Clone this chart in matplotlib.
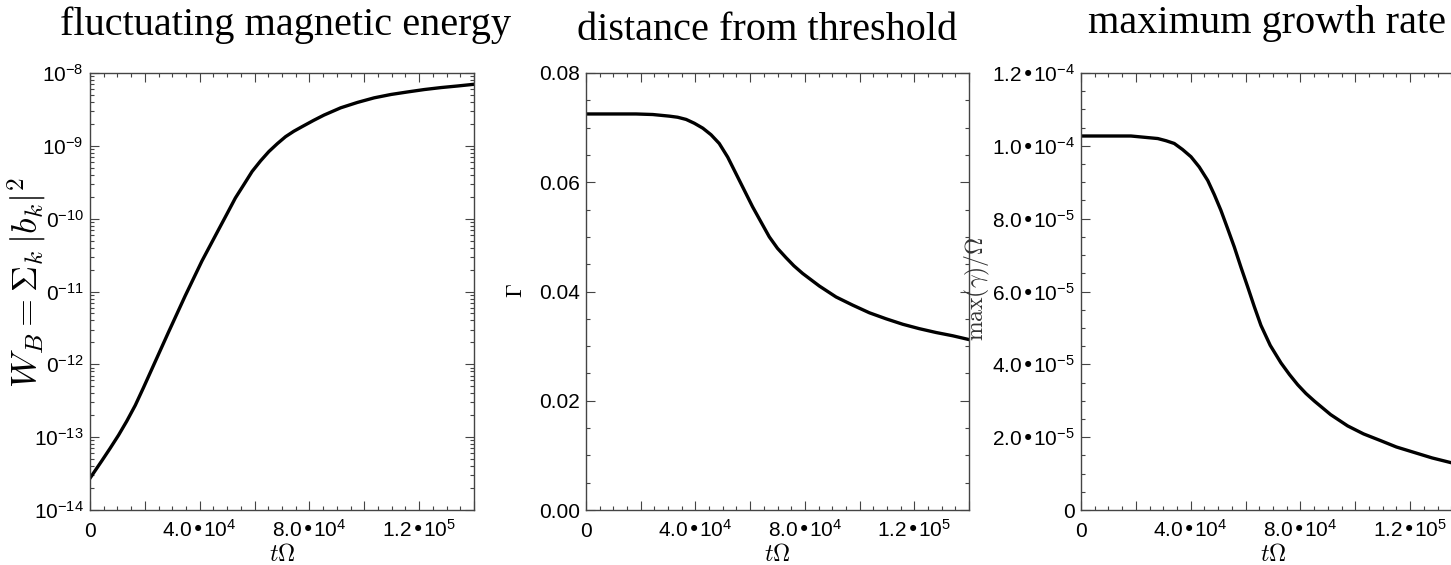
import numpy as np
import matplotlib
matplotlib.use('Agg')
import matplotlib.pyplot as plt
from matplotlib.ticker import MultipleLocator, LogLocator, NullFormatter

plt.rcParams['font.family'] = 'Liberation Sans'

# ---- values (t in units of 1/Omega) ----
# fluctuating magnetic energy (log10 of W_B)
t_wb = [0, 4.3e3, 7.3e3, 10.4e3, 13.4e3, 16.5e3, 19.5e3, 22.6e3, 28.6e3,
        34.7e3, 40.8e3, 46.9e3, 50.0e3, 53.0e3, 56.1e3, 59.1e3, 62.2e3,
        65.2e3, 68.3e3, 71.3e3, 74.3e3, 77.4e3, 81.5e3, 85.3e3, 91.4e3,
        97.5e3, 103.6e3, 109.7e3, 115.8e3, 121.9e3, 128.0e3, 134.1e3, 140.0e3]
log_wb = [-13.564, -13.325, -13.155, -12.973, -12.780, -12.563, -12.320,
          -12.061, -11.560, -11.060, -10.582, -10.149, -9.930, -9.716, -9.532,
          -9.352, -9.206, -9.079, -8.970, -8.874, -8.800, -8.735, -8.651,
          -8.578, -8.478, -8.404, -8.341, -8.295, -8.260, -8.227, -8.200,
          -8.178, -8.155]

# distance from threshold
t_gam = [0, 18.3e3, 24.4e3, 30.5e3, 33.5e3, 36.6e3, 39.6e3, 42.7e3, 45.7e3,
         48.7e3, 51.8e3, 54.8e3, 57.8e3, 60.9e3, 64.0e3, 67.0e3, 70.0e3,
         73.1e3, 76.0e3, 79.2e3, 85.3e3, 91.4e3, 97.5e3, 103.6e3, 109.7e3,
         115.8e3, 121.8e3, 127.9e3, 134.0e3, 140.0e3]
gamma_thr = [0.0725, 0.0725, 0.0724, 0.0721, 0.0719, 0.0715, 0.0708, 0.0699,
             0.0687, 0.0671, 0.0646, 0.0616, 0.0586, 0.0555, 0.0527, 0.0500,
             0.0479, 0.0462, 0.0447, 0.0433, 0.0410, 0.0390, 0.0375, 0.0361,
             0.0350, 0.0340, 0.0332, 0.0325, 0.0319, 0.0312]

# maximum growth rate
t_rate = [0, 18.2e3, 28.0e3, 31.0e3, 34.0e3, 37.0e3, 40.1e3, 43.1e3, 46.2e3,
          48.6e3, 51.0e3, 53.4e3, 55.9e3, 58.3e3, 60.8e3, 63.2e3, 65.6e3,
          69.0e3, 72.9e3, 76.0e3, 79.0e3, 82.0e3, 85.1e3, 91.0e3, 97.2e3,
          103.0e3, 109.4e3, 115.0e3, 121.5e3, 128.0e3, 134.9e3, 140.0e3]
rate_max = [1.027e-4, 1.027e-4, 1.020e-4, 1.014e-4, 1.0065e-4, 0.990e-4,
            0.970e-4, 0.942e-4, 0.905e-4, 0.866e-4, 0.823e-4, 0.774e-4,
            0.722e-4, 0.667e-4, 0.612e-4, 0.558e-4, 0.507e-4, 0.452e-4,
            0.404e-4, 0.372e-4, 0.344e-4, 0.320e-4, 0.299e-4, 0.262e-4,
            0.231e-4, 0.209e-4, 0.190e-4, 0.173e-4, 0.158e-4, 0.143e-4,
            0.130e-4, 0.124e-4]

# tick values / labels (as printed in the source figure)
x_ticks = [0, 2e4, 4e4, 6e4, 8e4, 1.0e5, 1.2e5, 1.4e5]
x_ticklabels = ['0', '', r'4.0•10$\mathregular{^4}$', '',
                r'8.0•10$\mathregular{^4}$', '', r'1.2•10$\mathregular{^5}$', '']
wb_ticks = [1e-14, 1e-13, 1e-12, 1e-11, 1e-10, 1e-9, 1e-8]
wb_ticklabels = [r'$\mathregular{10^{-14}}$', r'$\mathregular{10^{-13}}$',
                 r'$\mathregular{0^{-12}}$', r'$\mathregular{0^{-11}}$',
                 r'$\mathregular{0^{-10}}$', r'$\mathregular{10^{-9}}$',
                 r'$\mathregular{10^{-8}}$']
gam_ticks = [0.0, 0.02, 0.04, 0.06, 0.08]
gam_ticklabels = ['0.00', '0.02', '0.04', '0.06', '0.08']
rate_ticks = [0, 2e-5, 4e-5, 6e-5, 8e-5, 1.0e-4, 1.2e-4]
rate_ticklabels = ['0', r'2.0•10$\mathregular{^{-5}}$', r'4.0•10$\mathregular{^{-5}}$',
                   r'6.0•10$\mathregular{^{-5}}$', r'8.0•10$\mathregular{^{-5}}$',
                   r'1.0•10$\mathregular{^{-4}}$', r'1.2•10$\mathregular{^{-4}}$']

W, H = 1451, 565
fig = plt.figure(figsize=(W / 100, H / 100), dpi=100)
fig.patch.set_facecolor('white')

bot = 1 - 510 / H
hgt = 437 / H
ax1 = fig.add_axes([90 / W, bot, 384 / W, hgt])
ax2 = fig.add_axes([586 / W, bot, 383 / W, hgt])
ax3 = fig.add_axes([1081 / W, bot, 384 / W, hgt])  # runs off the right edge, as in the source


def style(ax):
    for sp in ax.spines.values():
        sp.set_color('#444444')
        sp.set_linewidth(1.0)
    ax.tick_params(which='both', direction='in', top=True, right=True,
                   color='#444444', width=0.8, labelsize=15, labelcolor='black')
    ax.tick_params(which='major', length=6.5)
    ax.tick_params(which='minor', length=3.2)
    ax.tick_params(axis='x', pad=19.5)
    ax.tick_params(axis='y', pad=4.5)
    ax.set_xlim(0, 1.4e5)
    ax.set_xticks(x_ticks)
    ax.set_xticklabels(x_ticklabels)
    ax.xaxis.set_minor_locator(MultipleLocator(5e3))
    for lbl in ax.get_xticklabels():
        lbl.set_verticalalignment('baseline')
    ax.set_xlabel(r'$t\Omega$', fontsize=17, math_fontfamily='cm')
    ax.xaxis.set_label_coords(0.5, -0.078)


# panel 1: magnetic energy
ax1.plot(t_wb, 10.0 ** np.array(log_wb), color='black', lw=2.4)
ax1.set_yscale('log')
ax1.set_ylim(1e-14, 1e-8)
style(ax1)
ax1.set_yticks(wb_ticks)
ax1.set_yticklabels(wb_ticklabels)
ax1.yaxis.set_minor_locator(LogLocator(base=10, subs=np.arange(2, 10)))
ax1.yaxis.set_minor_formatter(NullFormatter())
ax1.set_ylabel(r'$W_B = \Sigma_k\,|b_k|^2$', fontsize=26, math_fontfamily='cm')
ax1.yaxis.set_label_coords(-0.107, 0.52)

# panel 2: distance from threshold
ax2.plot(t_gam, gamma_thr, color='black', lw=2.4)
ax2.set_ylim(0, 0.08)
style(ax2)
ax2.set_yticks(gam_ticks)
ax2.set_yticklabels(gam_ticklabels)
ax2.yaxis.set_minor_locator(MultipleLocator(0.005))
ax2.set_ylabel(r'$\Gamma$', fontsize=16, math_fontfamily='cm')
ax2.yaxis.set_label_coords(-0.155, 0.503)

# panel 3: maximum growth rate
ax3.plot(t_rate, rate_max, color='black', lw=2.4)
ax3.set_ylim(0, 1.2e-4)
style(ax3)
ax3.set_yticks(rate_ticks)
ax3.set_yticklabels(rate_ticklabels)
ax3.yaxis.set_minor_locator(MultipleLocator(5e-6))
ax3.set_ylabel(r'$\mathrm{max}(\gamma)/\Omega$', fontsize=17, math_fontfamily='cm',
               color='#333333')
ax3.yaxis.set_label_coords(-0.232, 0.506)

# panel titles
tfont = dict(family='Liberation Serif', fontsize=29, ha='center', va='baseline')
fig.text(285 / W, 1 - 35 / H, 'fluctuating magnetic energy', **tfont)
fig.text(767 / W, 1 - 40 / H, 'distance from threshold', **tfont)
fig.text(1267 / W, 1 - 33 / H, 'maximum growth rate', **tfont)

fig.savefig('out.png', dpi=100)
